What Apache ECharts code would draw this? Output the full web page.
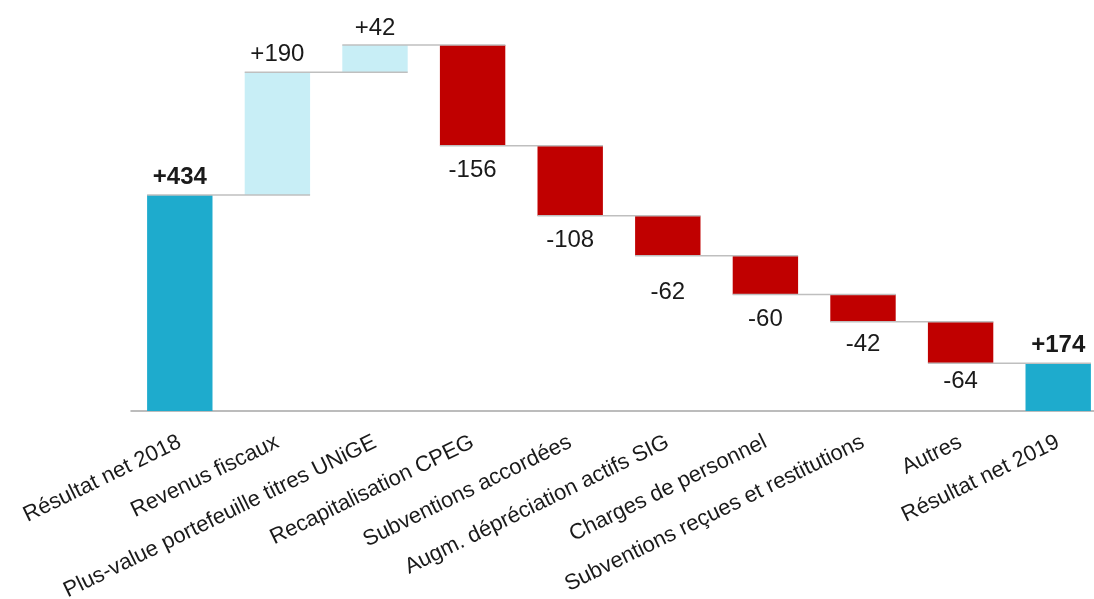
<!DOCTYPE html>
<html><head><meta charset="utf-8">
<script src="https://cdn.jsdelivr.net/npm/echarts@6/dist/echarts.min.js"></script>
<style>html,body{margin:0;padding:0;background:#fff;overflow:hidden;width:1094px;height:599px}#c{width:1107px;height:599px}</style>
</head><body><div id="c"></div>
<script>
const categories = ['Résultat net 2018', 'Revenus fiscaux', 'Plus-value portefeuille titres UNiGE', 'Recapitalisation CPEG', 'Subventions accordées', 'Augm. dépréciation actifs SIG', 'Charges de personnel', 'Subventions reçues et restitutions', 'Autres', 'Résultat net 2019'];
const deltas = [434, 190, 42, -156, -108, -62, -60, -42, -64, 174];
const isTotal = [true, false, false, false, false, false, false, false, false, true];
const valueLabels = ['+434', '+190', '+42', '-156', '-108', '-62', '-60', '-42', '-64', '+174'];

const labelDistance = [6, 6, 5, 13, 13, 25, 13, 11, 6, 6];
const COL_TOTAL = '#1EABCD', COL_POS = '#C8EEF6', COL_NEG = '#C00000';
const bases = [], heights = [], levels = [];
let running = 0;
deltas.forEach((d, i) => {
  if (isTotal[i]) { bases.push(0); heights.push(d); running = d; }
  else if (d >= 0) { bases.push(running); heights.push(d); running += d; }
  else { bases.push(running + d); heights.push(-d); running += d; }
  levels.push(running);
});
const connectors = [];
for (let i = 0; i < deltas.length - 1; i++) connectors.push([i, levels[i]]);

const BAR_RATIO = 0.67;
const FONT = '"Liberation Sans", Arial, sans-serif';
const chart = echarts.init(document.getElementById('c'));
chart.setOption({
  animation: false,
  grid: { left: 131, right: 0, top: 23, bottom: 188, containLabel: false, outerBoundsMode: 'none' },
  xAxis: {
    type: 'category',
    data: categories,
    axisLine: { lineStyle: { color: '#a6a6a6', width: 1.5 } },
    axisTick: { show: false },
    axisLabel: { interval: 0, rotate: 26, margin: 30, fontSize: 22, color: '#1a1a1a', fontFamily: FONT }
  },
  yAxis: { type: 'value', min: 100, max: 700, show: false, splitLine: { show: false } },
  series: [
    { type: 'bar', stack: 'w', data: bases, barWidth: (BAR_RATIO * 100) + '%', itemStyle: { color: 'transparent' }, silent: true },
    {
      type: 'bar', stack: 'w', barWidth: (BAR_RATIO * 100) + '%',
      data: heights.map((h, i) => ({
        value: h,
        itemStyle: { color: isTotal[i] ? COL_TOTAL : (deltas[i] >= 0 ? COL_POS : COL_NEG) },
        label: {
          show: true,
          position: (isTotal[i] || deltas[i] >= 0) ? 'top' : 'bottom',
          distance: labelDistance[i],
          formatter: valueLabels[i],
          fontSize: 24,
          fontWeight: isTotal[i] ? 'bold' : 'normal',
          color: '#1a1a1a',
          fontFamily: FONT
        }
      }))
    },
    {
      type: 'custom', z: 5, data: connectors,
      renderItem: function (params, api) {
        const i = api.value(0), lv = api.value(1);
        const p1 = api.coord([i, lv]), p2 = api.coord([i + 1, lv]);
        const bw = api.size([1, 0])[0] * BAR_RATIO;
        return { type: 'line', shape: { x1: p1[0] - bw / 2, y1: p1[1], x2: p2[0] + bw / 2, y2: p2[1] }, style: { stroke: '#bfbfbf', lineWidth: 1.5 } };
      }
    }
  ]
});
</script></body></html>
